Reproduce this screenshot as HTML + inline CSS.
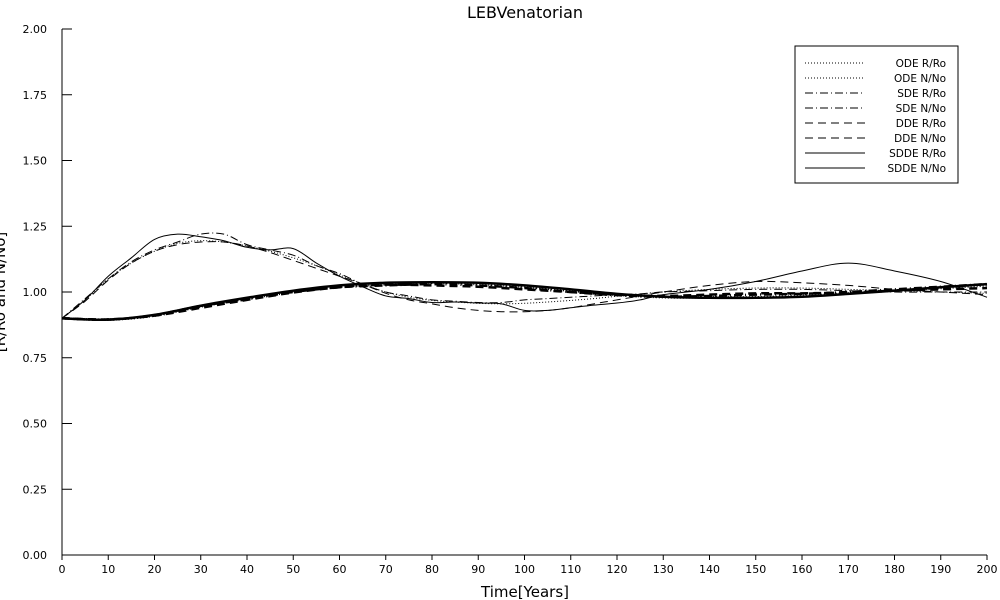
<!DOCTYPE html>
<html><head><meta charset="utf-8"><style>
body{margin:0;background:#fff}
svg{display:block;font-family:"DejaVu Sans","Liberation Sans",sans-serif}
</style></head><body>
<svg id="chart" width="1000" height="600" viewBox="0 0 1000 600" xmlns="http://www.w3.org/2000/svg">
<text x="525" y="18" font-size="16" text-anchor="middle">LEBVenatorian</text>
<text x="525" y="597" font-size="15" text-anchor="middle">Time[Years]</text>
<text transform="translate(5,292) rotate(-90)" font-size="15" text-anchor="middle">[R/Ro and N/No]</text>
<g id="axes"></g>
<g id="series"></g>
<g id="legend"></g>
</svg>
<script>
const xTicks=[0,10,20,30,40,50,60,70,80,90,100,110,120,130,140,150,160,170,180,190,200];
const yTicks=[0,0.25,0.5,0.75,1.0,1.25,1.5,1.75,2.0];
const tR=[0,5,10,15,20,25,30,35,40,45,50,55,60,65,70,75,80,85,90,95,100,105,110,115,120,125,130,140,150,160,170,180,190,200];
const odeR=[0.9,0.97,1.05,1.11,1.155,1.185,1.195,1.19,1.175,1.155,1.13,1.1,1.065,1.03,1.0,0.98,0.968,0.962,0.957,0.955,0.957,0.962,0.968,0.975,0.984,0.992,1.0,1.01,1.015,1.015,1.01,1.005,1.0,0.995];
const sdeR=[0.9,0.975,1.05,1.115,1.16,1.19,1.22,1.22,1.18,1.16,1.14,1.1,1.07,1.03,1.0,0.985,0.97,0.965,0.96,0.96,0.97,0.975,0.98,0.985,0.99,0.993,1.0,1.005,1.01,1.01,1.005,1.0,1.0,1.0];
const ddeR=[0.9,0.965,1.045,1.11,1.155,1.18,1.19,1.19,1.175,1.15,1.12,1.09,1.06,1.03,0.995,0.97,0.955,0.94,0.93,0.925,0.925,0.93,0.94,0.955,0.97,0.985,1.0,1.025,1.04,1.035,1.025,1.01,1.0,0.99];
const sddeR=[0.9,0.97,1.06,1.13,1.2,1.22,1.21,1.195,1.17,1.16,1.165,1.11,1.06,1.02,0.985,0.975,0.96,0.962,0.958,0.955,0.93,0.93,0.94,0.95,0.958,0.97,0.99,1.01,1.04,1.08,1.11,1.08,1.04,0.98];
const tN=[0,10,20,30,40,50,60,70,80,90,100,110,120,130,140,150,160,170,180,190,200];
const odeN=[0.9,0.895,0.91,0.945,0.975,1.0,1.02,1.03,1.035,1.03,1.02,1.005,0.99,0.98,0.98,0.98,0.985,0.995,1.005,1.015,1.025];
const sdeN=[0.9,0.895,0.912,0.947,0.972,1.0,1.018,1.025,1.03,1.025,1.015,1.0,0.988,0.982,0.985,0.99,0.993,1.0,1.01,1.02,1.03];
const ddeN=[0.9,0.896,0.91,0.94,0.97,0.998,1.018,1.028,1.025,1.02,1.01,1.0,0.99,0.985,0.99,0.995,0.995,0.998,1.005,1.01,1.015];
const sddeN=[0.9,0.895,0.913,0.948,0.978,1.005,1.025,1.035,1.037,1.035,1.025,1.01,0.993,0.982,0.978,0.978,0.982,0.993,1.005,1.018,1.03];
const X0=62,X1=987,Y0=555,Y1=29;
const sx=v=>X0+(v/200)*(X1-X0);
const sy=v=>Y0-(v/2)*(Y0-Y1);
const NS="http://www.w3.org/2000/svg";
function mk(tag,attrs,parent){const e=document.createElementNS(NS,tag);for(const k in attrs)e.setAttribute(k,attrs[k]);parent.appendChild(e);return e;}
const axes=document.getElementById('axes');
const ax=mk('path',{d:`M${X0},${Y1}V${Y0}H${X1}`,stroke:'#000',fill:'none','stroke-width':1},axes);


xTicks.forEach(t=>{
 const l=mk('line',{x1:sx(t),x2:sx(t),y1:Y0,y2:Y0+5,stroke:'#000'},axes);
 
 
 const tx=mk('text',{x:sx(t),y:Y0+18,'font-size':11,'text-anchor':'middle'},axes);tx.textContent=t;
 
 
});
yTicks.forEach(t=>{
 const l=mk('line',{x1:X0,x2:X0+10,y1:sy(t),y2:sy(t),stroke:'#000'},axes);
 
 
 const tx=mk('text',{x:47,y:sy(t)+4,'font-size':11,'text-anchor':'end'},axes);tx.textContent=t.toFixed(2);
 
 
});
function pathD(ts,vs){
 const p=ts.map((t,i)=>[sx(t),sy(vs[i])]);
 let d=`M${p[0][0]},${p[0][1]}`;
 for(let i=0;i<p.length-1;i++){
  const a=p[Math.max(0,i-1)],b=p[i],c=p[i+1],e=p[Math.min(p.length-1,i+2)];
  const c1=[b[0]+(c[0]-a[0])/6,b[1]+(c[1]-a[1])/6],c2=[c[0]-(e[0]-b[0])/6,c[1]-(e[1]-b[1])/6];
  d+=`C${c1[0]},${c1[1]} ${c2[0]},${c2[1]} ${c[0]},${c[1]}`;
 }
 return d;
}
const styles={ode:'1,2',sde:'8,3,1,3',dde:'8,5',sdde:''};
const defs=[['ode-r','ODE R/Ro',tR,odeR,'ode',1],['ode-n','ODE N/No',tN,odeN,'ode',2.5],
['sde-r','SDE R/Ro',tR,sdeR,'sde',1],['sde-n','SDE N/No',tN,sdeN,'sde',2.5],
['dde-r','DDE R/Ro',tR,ddeR,'dde',1],['dde-n','DDE N/No',tN,ddeN,'dde',2.5],
['sdde-r','SDDE R/Ro',tR,sddeR,'sdde',1],['sdde-n','SDDE N/No',tN,sddeN,'sdde',2.5]];
const sg=document.getElementById('series');
defs.forEach(d=>{
 const p=mk('path',{d:pathD(d[2],d[3]),fill:'none',stroke:'#000','stroke-width':d[5],'stroke-dasharray':styles[d[4]]},sg);
 
 
});
const lg=document.getElementById('legend');
const box=mk('rect',{x:795,y:46,width:163,height:137,fill:'#fff',stroke:'#000'},lg);


defs.forEach((d,i)=>{
 const y=63+i*15;
 const l=mk('line',{x1:805,x2:865,y1:y,y2:y,stroke:'#000','stroke-width':1,'stroke-dasharray':styles[d[4]]},lg);
 
 
 const t=mk('text',{x:946,y:y+4,'font-size':10.5,'text-anchor':'end'},lg);t.textContent=d[1];
 
 
});
</script>
</body></html>
